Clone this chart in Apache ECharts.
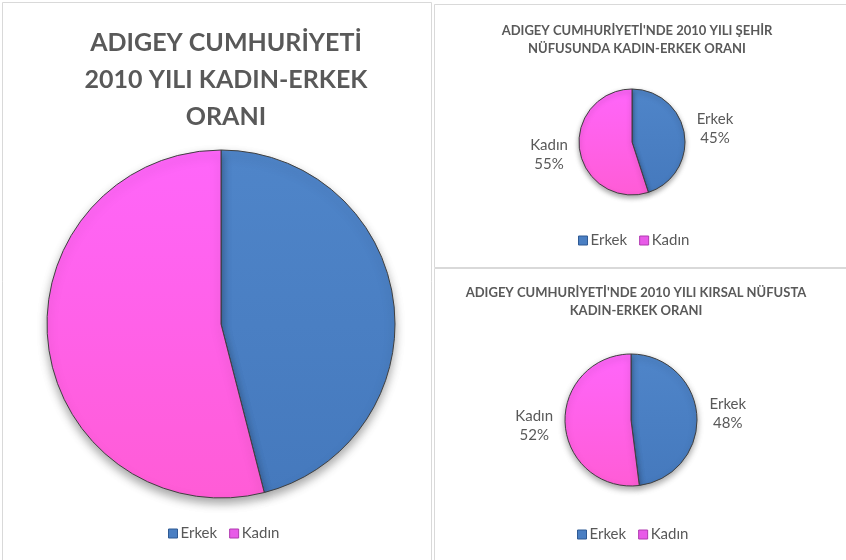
<!DOCTYPE html>
<html>
<head>
<meta charset="utf-8">
<script src="https://cdn.jsdelivr.net/npm/echarts@6/dist/echarts.min.js"></script>
<style>
  html, body { margin: 0; padding: 0; background: #fff; }
  #main { width: 846px; height: 560px; }
</style>
</head>
<body>
<div id="main"></div>
<script>
// categories and values (percent)
var categories = ['Erkek', 'Kadın'];
var totalValues = [46, 54];
var urbanValues = [45, 55];
var ruralValues = [48, 52];

var titleMain = 'ADIGEY CUMHURİYETİ\n2010 YILI KADIN-ERKEK\nORANI';
var titleUrban = "ADIGEY CUMHURİYETİ'NDE 2010 YILI ŞEHİR\nNÜFUSUNDA KADIN-ERKEK ORANI";
var titleRural = "ADIGEY CUMHURİYETİ'NDE 2010 YILI KIRSAL NÜFUSTA\nKADIN-ERKEK ORANI";

var FONT = 'Lato';
var TEXT = '#595959';

// colour of a slice, gradient in absolute px so it spans the whole pie
function sliceColor(name, center, r) {
  var top = center[1] - r, bottom = center[1] + r;
  if (name == 'Erkek') {
    return new echarts.graphic.LinearGradient(0, top, 0, bottom, [
      { offset: 0, color: '#4f85c9' },
      { offset: 1, color: '#4579bd' }
    ], true);
  }
  return new echarts.graphic.LinearGradient(0, top, 0, bottom, [
    { offset: 0, color: '#ff66fa' },
    { offset: 1, color: '#ff5cd6' }
  ], true);
}

function makeData(values) {
  return categories.map(function (c, i) {
    return { name: c, value: values[i] };
  });
}

// the visible pie
function pieSeries(values, center, r, shadow) {
  return {
    type: 'pie',
    center: center,
    radius: [0, r],
    startAngle: 90,
    clockwise: true,
    silent: true,
    label: { show: false },
    labelLine: { show: false },
    itemStyle: {
      color: function (p) { return sliceColor(p.name, center, r); },
      borderColor: '#404040',
      borderWidth: 1,
      shadowBlur: shadow,
      shadowOffsetY: shadow / 2,
      shadowColor: 'rgba(0,0,0,0.35)'
    },
    data: makeData(values)
  };
}

// transparent copy that only carries the labels (label sits at half its radius)
function labelSeries(values, center, labelR, size) {
  return {
    type: 'pie',
    center: center,
    radius: [0, labelR * 2],
    startAngle: 90,
    clockwise: true,
    silent: true,
    z: 1,
    itemStyle: { color: 'rgba(0,0,0,0)', borderWidth: 0 },
    label: {
      show: true,
      position: 'inside',
      formatter: '{b}\n{c}%',
      fontFamily: FONT,
      fontSize: size,
      lineHeight: size + 4,
      color: TEXT,
      align: 'center'
    },
    labelLine: { show: false },
    data: makeData(values)
  };
}

function legendAt(left, top) {
  return {
    left: left,
    top: top,
    padding: 0,
    icon: 'rect',
    itemWidth: 9,
    itemHeight: 9,
    itemGap: 12,
    selectedMode: false,
    textStyle: { fontFamily: FONT, fontSize: 15, color: TEXT, padding: [0, 0, 0, -2] },
    data: [
      { name: 'Erkek', itemStyle: { color: '#4a7fc3', borderColor: '#2f5a94', borderWidth: 1 } },
      { name: 'Kadın', itemStyle: { color: '#e85ae8', borderColor: '#b03ab0', borderWidth: 1 } }
    ]
  };
}

var chart = echarts.init(document.getElementById('main'));
chart.setOption({
  backgroundColor: '#fff',
  animation: false,
  graphic: [
    { type: 'rect', shape: { x: 2.5, y: 2.5, width: 429, height: 570 }, style: { fill: null, stroke: '#d9d9d9', lineWidth: 1 } },
    { type: 'rect', shape: { x: 434.5, y: 4.5, width: 420, height: 263 }, style: { fill: null, stroke: '#d9d9d9', lineWidth: 1 } },
    { type: 'rect', shape: { x: 434.5, y: 268.5, width: 420, height: 300 }, style: { fill: null, stroke: '#d9d9d9', lineWidth: 1 } }
  ],
  title: [
    {
      text: titleMain, left: 221, top: 19, textAlign: 'center',
      textStyle: { fontFamily: FONT, fontWeight: 'bold', fontSize: 25, lineHeight: 37, color: TEXT }
    },
    {
      text: titleUrban, left: 632, top: 17, textAlign: 'center',
      textStyle: { fontFamily: FONT, fontWeight: 'bold', fontSize: 13, lineHeight: 18, color: TEXT }
    },
    {
      text: titleRural, left: 631, top: 279, textAlign: 'center',
      textStyle: { fontFamily: FONT, fontWeight: 'bold', fontSize: 13, lineHeight: 18, color: TEXT }
    }
  ],
  legend: [
    legendAt(168, 526),
    legendAt(578, 233),
    legendAt(577, 527)
  ],
  series: [
    pieSeries(totalValues, [221, 324], 174, 10),
    pieSeries(urbanValues, [632, 142], 53, 5),
    pieSeries(ruralValues, [631, 420], 66, 6),
    labelSeries(totalValues, [221, 324], 143, 15),
    labelSeries(urbanValues, [632, 142], 81, 15),
    labelSeries(ruralValues, [631, 420], 94, 15)
  ]
});
</script>
</body>
</html>
